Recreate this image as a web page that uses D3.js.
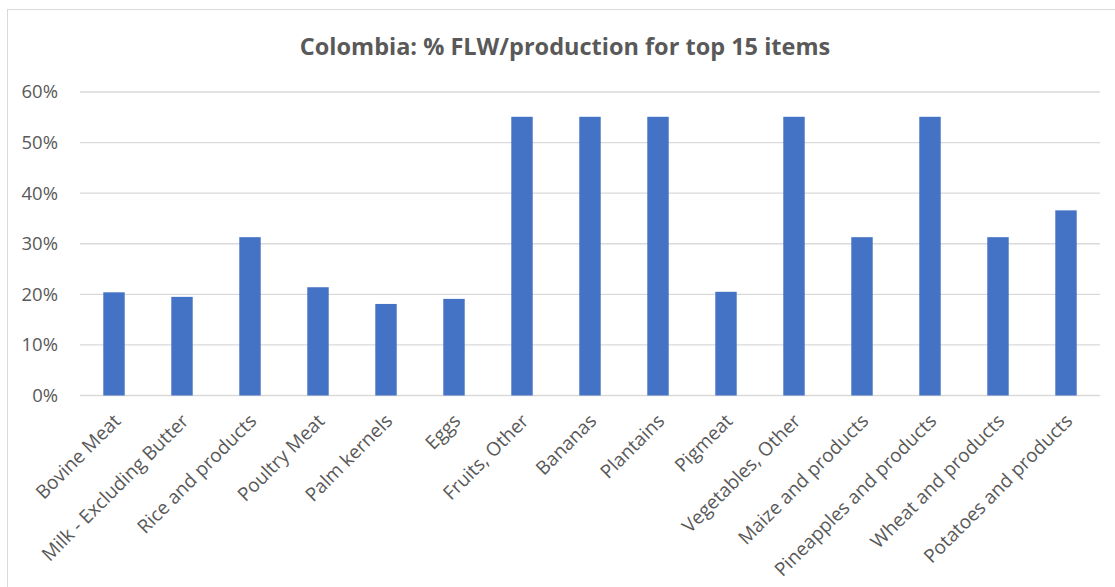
<!DOCTYPE html>
<html>
<head>
<meta charset="utf-8">
<script src="https://cdn.jsdelivr.net/npm/d3@7"></script>
<style>
  body { margin: 0; background: #fff; }
  svg { display: block; font-family: "Open Sans", sans-serif; }
</style>
</head>
<body>
<script>
// Data
const items = [
  "Bovine Meat", "Milk - Excluding Butter", "Rice and products", "Poultry Meat",
  "Palm kernels", "Eggs", "Fruits, Other", "Bananas", "Plantains", "Pigmeat",
  "Vegetables, Other", "Maize and products", "Pineapples and products",
  "Wheat and products", "Potatoes and products"
];
const flwShare = [
  0.204, 0.195, 0.313, 0.214, 0.181, 0.191, 0.551, 0.551, 0.551, 0.205,
  0.551, 0.313, 0.551, 0.313, 0.366
];
const yTicks = [0, 0.1, 0.2, 0.3, 0.4, 0.5, 0.6];

const W = 1115, H = 587;
const margin = { top: 92, right: 15, bottom: 191.5, left: 80 };
const width = W - margin.left - margin.right;   // 1020
const height = H - margin.top - margin.bottom;  // ~303.5

const svg = d3.select("body").append("svg")
    .attr("width", W)
    .attr("height", H);

// chart frame (runs off the right and bottom of the picture)
svg.append("rect")
    .attr("x", 7.5).attr("y", 9.5)
    .attr("width", W + 20).attr("height", H + 20)
    .attr("fill", "none")
    .attr("stroke", "#d9d9d9")
    .attr("stroke-width", 1);

// title
svg.append("text")
    .attr("x", 565)
    .attr("y", 55)
    .attr("text-anchor", "middle")
    .attr("font-size", "23.5px")
    .attr("font-weight", "bold")
    .attr("fill", "#595959")
    .text("Colombia: % FLW/production for top 15 items");

const g = svg.append("g")
    .attr("transform", `translate(${margin.left},${margin.top})`);

const x = d3.scaleBand()
    .domain(items)
    .range([0, width])
    .paddingInner(0.685)
    .paddingOuter(0.3425);

const y = d3.scaleLinear()
    .domain([0, 0.6])
    .range([height, 0]);

// gridlines
g.append("g")
    .attr("class", "grid")
    .selectAll("line")
    .data(yTicks)
    .enter()
    .append("line")
    .attr("x1", 0)
    .attr("x2", width)
    .attr("y1", d => y(d))
    .attr("y2", d => y(d))
    .attr("stroke", "#d9d9d9")
    .attr("stroke-width", 1.3);

// y axis labels
const yAxis = g.append("g")
    .call(d3.axisLeft(y).tickValues(yTicks).tickFormat(d3.format(".0%")).tickSize(0).tickPadding(22));
yAxis.select(".domain").remove();
yAxis.selectAll("text")
    .attr("font-size", "18.5px")
    .attr("font-family", "Open Sans, sans-serif")
    .attr("fill", "#595959");

// bars
g.selectAll(".bar")
    .data(items)
    .enter()
    .append("rect")
    .attr("class", "bar")
    .attr("x", d => x(d))
    .attr("width", x.bandwidth())
    .attr("y", (d, i) => y(flwShare[i]))
    .attr("height", (d, i) => y(0) - y(flwShare[i]))
    .attr("fill", "#4472c4");

// x axis labels, rotated
const xAxis = g.append("g")
    .attr("transform", `translate(0,${height})`)
    .call(d3.axisBottom(x).tickSize(0));
xAxis.select(".domain").remove();
xAxis.selectAll("text")
    .attr("font-size", "19px")
    .attr("font-family", "Open Sans, sans-serif")
    .attr("fill", "#595959")
    .attr("text-anchor", "end")
    .attr("x", 0).attr("y", 0).attr("dy", "0.35em")
    .attr("transform", "translate(3,22) rotate(-45)");
</script>
</body>
</html>
